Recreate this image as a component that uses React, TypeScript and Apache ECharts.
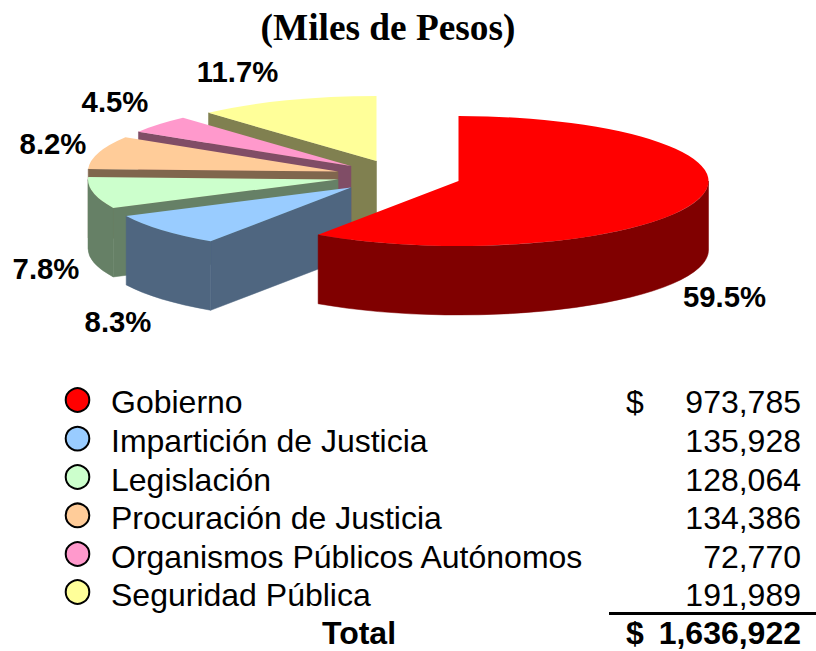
import React, { useEffect, useRef } from "react";
import * as echarts from "echarts";

const categories = [
  "Gobierno",
  "Impartición de Justicia",
  "Legislación",
  "Procuración de Justicia",
  "Organismos Públicos Autónomos",
  "Seguridad Pública",
];
const amounts = [973785, 135928, 128064, 134386, 72770, 191989];
const amountLabels = ["973,785", "135,928", "128,064", "134,386", "72,770", "191,989"];
const percentLabels = ["59.5%", "8.3%", "7.8%", "8.2%", "4.5%", "11.7%"];
const totalLabel = "1,636,922";
const titleText = "(Miles de Pesos)";

const topColors = ["#FF0000", "#99CCFF", "#CCFFCC", "#FFCC99", "#FF99CC", "#FFFF99"];
const sideColors = ["#800000", "#4F6680", "#668066", "#80664D", "#804D66", "#808050"];
const apexes = [
  [458.5, 181],
  [351, 187.5],
  [338, 179.5],
  [338, 171.5],
  [351, 166],
  [376.5, 161],
];
const labelPositions = [
  [724.5, 296],
  [118, 321],
  [46, 268],
  [53, 143],
  [115, 101],
  [237.5, 71],
];
const layerOrder = [5, 4, 3, 2, 1, 0];
const rowCentres = [402, 441, 480, 518, 557, 595];
const markerCentres = [400, 438.6, 477, 515.3, 554, 592];

const RX = 250;
const RY = 65;
const DEPTH = 69;
const total = amounts.reduce((a, b) => a + b, 0);
const sans = '"Liberation Sans", Arial, sans-serif';

function pt(cx: number, cy: number, t: number) {
  return [cx + RX * Math.sin(t), cy - RY * Math.cos(t)];
}
const f = (n: number) => n.toFixed(2);

function renderSlice(params: any, api: any) {
  const i = params.dataIndex;
  const value = api.value(0);
  let before = 0;
  for (let k = 0; k < i; k++) before += amounts[k];
  const t0 = (before / total) * Math.PI * 2;
  const t1 = t0 + (value / total) * Math.PI * 2;
  const [cx, cy] = apexes[i];
  const p0 = pt(cx, cy, t0);
  const p1 = pt(cx, cy, t1);
  const large = t1 - t0 > Math.PI ? 1 : 0;
  const base = layerOrder[i] * 10;
  const children: any[] = [];
  const side = { fill: sideColors[i], stroke: sideColors[i], lineWidth: 0.5 };

  // radial cut faces that look towards the viewer
  const cuts: number[] = [];
  if (i > 0) cuts.push(t0);
  cuts.forEach((t) => {
    const p = pt(cx, cy, t);
    children.push({
      type: "path",
      z2: base,
      shape: {
        pathData: `M${f(cx)} ${f(cy)}L${f(p[0])} ${f(p[1])}L${f(p[0])} ${f(p[1] + DEPTH)}L${f(cx)} ${f(cy + DEPTH)}Z`,
      },
      style: side,
    });
  });

  // outer wall: only the front half of the rim is visible
  const w0 = Math.max(t0, Math.PI / 2);
  const w1 = Math.min(t1, (Math.PI * 3) / 2);
  if (w1 > w0) {
    const a = pt(cx, cy, w0);
    const b = pt(cx, cy, w1);
    children.push({
      type: "path",
      z2: base + 1,
      shape: {
        pathData:
          `M${f(a[0])} ${f(a[1])}A${RX} ${RY} 0 0 1 ${f(b[0])} ${f(b[1])}` +
          `L${f(b[0])} ${f(b[1] + DEPTH)}A${RX} ${RY} 0 0 0 ${f(a[0])} ${f(a[1] + DEPTH)}Z`,
      },
      style: side,
    });
  }

  // top face
  children.push({
    type: "path",
    z2: base + 2,
    shape: {
      pathData: `M${f(cx)} ${f(cy)}L${f(p0[0])} ${f(p0[1])}A${RX} ${RY} 0 ${large} 1 ${f(p1[0])} ${f(p1[1])}Z`,
    },
    style: { fill: topColors[i] },
  });

  // percent label
  children.push({
    type: "text",
    z2: 100,
    x: labelPositions[i][0],
    y: labelPositions[i][1],
    style: {
      text: percentLabels[i],
      fill: "#000",
      font: `bold 29.3px ${sans}`,
      align: "center",
      verticalAlign: "middle",
    },
  });
  return { type: "group", children };
}

function legendGraphics() {
  const out: any[] = [];
  const text = (t: string, x: number, y: number, align: string, bold = false) => ({
    type: "text",
    x,
    y,
    style: {
      text: t,
      fill: "#000",
      font: `${bold ? "bold " : ""}32px ${sans}`,
      align,
      verticalAlign: "middle",
    },
  });
  categories.forEach((name, i) => {
    out.push({
      type: "circle",
      shape: { cx: 77.5, cy: markerCentres[i], r: 11.8 },
      style: { fill: topColors[i], stroke: "#000", lineWidth: 2 },
    });
    out.push(text(name, 111, rowCentres[i], "left"));
    out.push(text(amountLabels[i], 801, rowCentres[i], "right"));
  });
  out.push(text("$", 626, rowCentres[0], "left"));
  out.push(text("Total", 359, 633, "center", true));
  out.push(text("$", 626, 633, "left", true));
  out.push(text(totalLabel, 801, 633, "right", true));
  out.push({
    type: "rect",
    shape: { x: 609, y: 612, width: 207, height: 3 },
    style: { fill: "#000" },
  });
  return out;
}

export default function App() {
  const ref = useRef<HTMLDivElement>(null);
  useEffect(() => {
    document.body.style.margin = "0";
    document.body.style.overflow = "hidden";
    const chart = echarts.init(ref.current!, undefined, { renderer: "svg" });
    chart.setOption({
      animation: false,
      backgroundColor: "#fff",
      title: {
        text: titleText,
        left: 383,
        top: 4,
        textAlign: "center",
        textStyle: {
          fontFamily: '"Liberation Serif", "Times New Roman", serif',
          fontWeight: "bold",
          fontSize: 37.3,
          color: "#000",
        },
      },
      series: [
        {
          type: "custom",
          coordinateSystem: "none",
          silent: true,
          clip: false,
          data: amounts.map((v) => [v]),
          renderItem: renderSlice,
        },
      ],
      graphic: legendGraphics(),
    });
    return () => chart.dispose();
  }, []);
  return <div ref={ref} style={{ position: "absolute", left: 0, top: 0, width: 816, height: 651 }} />;
}
